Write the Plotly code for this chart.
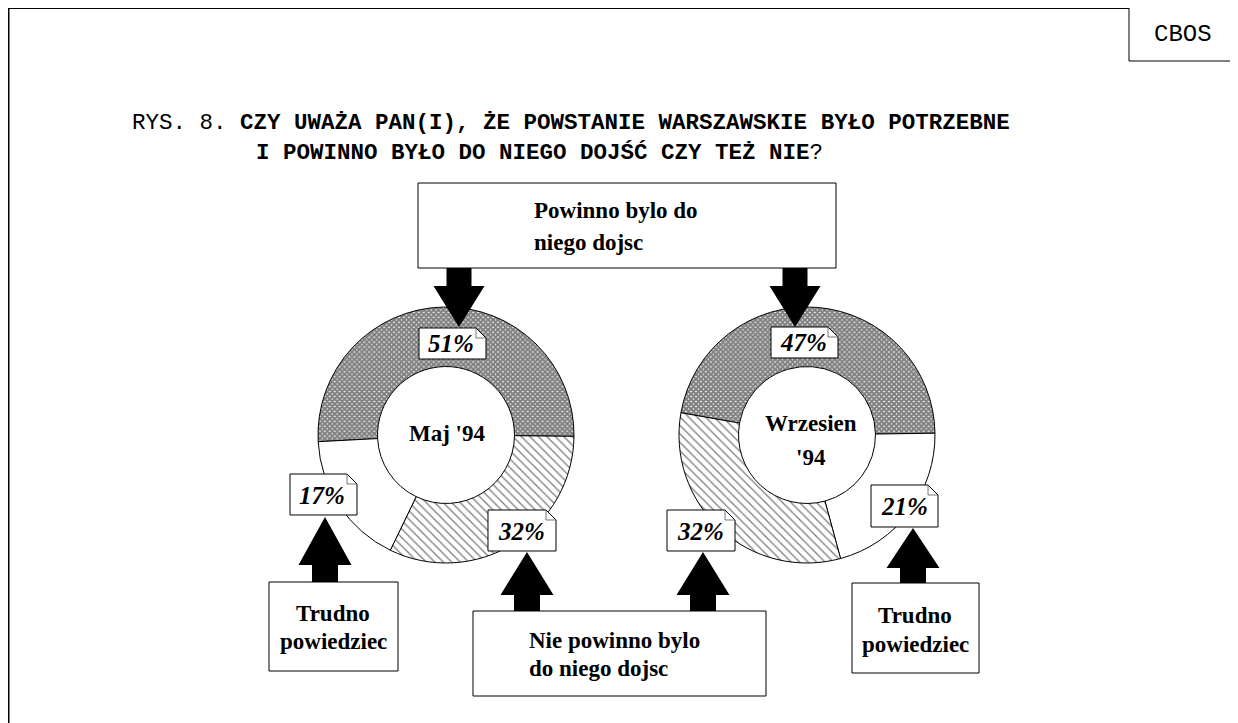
import plotly.graph_objects as go

# ---------------- data ----------------
categories = ["Powinno bylo do niego dojsc", "Nie powinno bylo do niego dojsc", "Trudno powiedziec"]
survey_names = ["Maj '94", "Wrzesien '94"]
may_values = [51, 32, 17]
sep_values = [47, 32, 21]

# page is 1238x723, browser body adds an 8px margin
W, H = 1238, 723
OFF = 8
FW, FH = W - OFF, H - OFF

def px(x):
    return (x - OFF) / FW

def py(y):
    return 1 - (y - OFF) / FH

fig = go.Figure()

pat = {
    categories[0]: dict(shape="x", size=3.5, solidity=0.85),
    categories[1]: dict(shape="\\", size=6, solidity=0.22),
    categories[2]: dict(shape="", size=6, solidity=0.2),
}

def add_donut(vals, order, cx, cy, r, rot, name):
    labels = [categories[i] for i in order]
    values = [vals[i] for i in order]
    fig.add_trace(go.Pie(
        labels=labels, values=values, sort=False, direction="clockwise",
        rotation=rot, hole=0.535, textinfo="none", hoverinfo="label+percent",
        showlegend=False, name=name,
        marker=dict(colors=["white"] * 3,
                    line=dict(color="black", width=1),
                    pattern=dict(
                        shape=[pat[l]["shape"] for l in labels],
                        size=[pat[l]["size"] for l in labels],
                        solidity=[pat[l]["solidity"] for l in labels],
                        fgcolor=["black"] * 3, bgcolor=["white"] * 3, fillmode="overlay")),
        domain=dict(x=[px(cx - r), px(cx + r)], y=[py(cy + r), py(cy - r)]),
    ))

R = 128
add_donut(may_values, [0, 1, 2], 446, 435, R, 267, survey_names[0])
add_donut(sep_values, [0, 2, 1], 807, 435, R, 280, survey_names[1])

shapes = []
annotations = []

serif = "Liberation Serif, Times New Roman, serif"
mono = "Liberation Mono, Courier New, monospace"

def line(x0, y0, x1, y1, lw=1):
    shapes.append(dict(type="line", xref="paper", yref="paper", x0=px(x0), x1=px(x1),
                       y0=py(y0), y1=py(y1), line=dict(color="black", width=lw), layer="above"))

def rect(x0, y0, x1, y1, lw=1):
    shapes.append(dict(type="rect", xref="paper", yref="paper",
                       x0=px(x0), x1=px(x1), y0=py(y1), y1=py(y0),
                       line=dict(color="black", width=lw), fillcolor="white", layer="above"))

def path(points, fill="black", lw=0, color="black", closed=True):
    d = "M " + " L ".join(f"{px(x):.5f},{py(y):.5f}" for x, y in points)
    if closed:
        d += " Z"
    s = dict(type="path", xref="paper", yref="paper", path=d,
             line=dict(color=color, width=lw), layer="above")
    if closed:
        s["fillcolor"] = fill
    shapes.append(s)

def fold_box(x0, y0, x1, y1, f=10):
    path([(x0, y0), (x1 - f, y0), (x1, y0 + f), (x1, y1), (x0, y1)], fill="white", lw=1)
    path([(x1 - f, y0), (x1 - f, y0 + f), (x1, y0 + f)], lw=0.8, color="#555", closed=False)

def arrow_down(cx, y_top, y_head, y_tip, sh=12.5, hh=25.5):
    path([(cx - sh, y_top), (cx + sh, y_top), (cx + sh, y_head), (cx + hh, y_head),
          (cx, y_tip), (cx - hh, y_head), (cx - sh, y_head)])

def arrow_up(cx, y_tip, y_head, y_bot, sh=13, hh=26.5):
    path([(cx, y_tip), (cx + hh, y_head), (cx + sh, y_head), (cx + sh, y_bot),
          (cx - sh, y_bot), (cx - sh, y_head), (cx - hh, y_head)])

def text(x, y, s, size=23, family=serif, xanchor="center"):
    annotations.append(dict(x=px(x), y=py(y), xref="paper", yref="paper", text=s,
                            showarrow=False, xanchor=xanchor, yanchor="middle",
                            font=dict(family=family, size=size, color="black"), align="left"))

# frame lines
line(8.75, 723, 8.75, 8.5, lw=1.5)
line(8, 8.5, 1129, 8.5)
line(1129, 8, 1129, 61)
line(1129, 61, 1238, 61)
text(1183, 34, "CBOS", size=24, family=mono)

# title
text(130, 123, "RYS. 8. <b>CZY UWAŻA PAN(I), ŻE POWSTANIE WARSZAWSKIE BYŁO POTRZEBNE</b>",
     size=22.5, family=mono, xanchor="left")
text(254, 153, "<b>I POWINNO BYŁO DO NIEGO DOJŚĆ CZY TEŻ NIE</b>?", size=22.5, family=mono, xanchor="left")

# top category box and arrows
rect(418, 183, 836, 268)
text(532, 210, "<b>Powinno bylo do</b>", xanchor="left")
text(532, 243, "<b>niego dojsc</b>", xanchor="left")
arrow_down(459, 268, 286, 327)
arrow_down(795, 268, 286, 327)

# value boxes
PS = 25
fold_box(419, 328, 486, 359)
text(451, 343, f"<b><i>{may_values[0]}%</i></b>", size=PS)
fold_box(771, 327, 838, 358)
text(803, 342, f"<b><i>{sep_values[0]}%</i></b>", size=PS)
fold_box(290, 474, 357, 515)
text(322, 495, f"<b><i>{may_values[2]}%</i></b>", size=PS)
fold_box(488, 510, 556, 551)
text(521, 531, f"<b><i>{may_values[1]}%</i></b>", size=PS)
fold_box(667, 510, 735, 551)
text(700, 531, f"<b><i>{sep_values[1]}%</i></b>", size=PS)
fold_box(871, 485, 938, 527)
text(904, 506, f"<b><i>{sep_values[2]}%</i></b>", size=PS)

# up arrows
arrow_up(325, 517, 565, 582)
arrow_up(527, 552, 595, 611)
arrow_up(703, 552, 595, 611)
arrow_up(913, 528, 568, 583)

# bottom boxes
rect(269, 582, 398, 671)
text(333, 613, "<b>Trudno</b>")
text(333, 641, "<b>powiedziec</b>")
rect(473, 611, 766, 696)
text(527, 640, "<b>Nie powinno bylo</b>", xanchor="left")
text(527, 668, "<b>do niego dojsc</b>", xanchor="left")
rect(852, 583, 979, 673)
text(915, 615, "<b>Trudno</b>")
text(915, 644, "<b>powiedziec</b>")

# donut centre labels
text(447, 433, f"<b>{survey_names[0]}</b>")
m, y = survey_names[1].split(" ")
text(811, 423, f"<b>{m}</b>")
text(811, 457, f"<b>{y}</b>")

fig.update_layout(
    width=FW, height=FH, margin=dict(l=0, r=0, t=0, b=0),
    paper_bgcolor="white", plot_bgcolor="white",
    shapes=shapes, annotations=annotations, showlegend=False,
)

fig.write_html("out.html")
